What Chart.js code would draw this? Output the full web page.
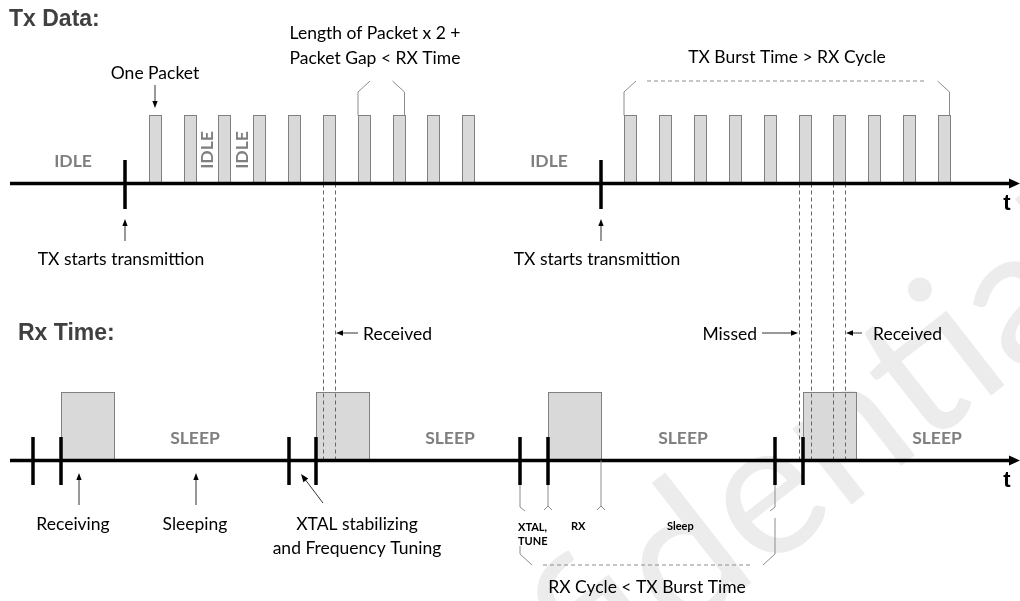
<!DOCTYPE html>
<html>
<head>
<meta charset="utf-8">
<script src="https://cdn.jsdelivr.net/npm/chart.js@4/dist/chart.umd.min.js"></script>
<style>
  html, body { margin: 0; padding: 0; background: #fff; }
  #wrap { width: 1020px; height: 601px; }
</style>
</head>
<body>
<div id="wrap"><canvas id="timing" width="1020" height="601"></canvas></div>
<script>
// time runs along x (0..1020), the two tracks sit on a 0..601 vertical scale, top = 0
const txPacketStarts = [149, 184, 218, 253, 288, 323, 358, 393, 427, 462,
                        624, 659, 694, 729, 764, 799, 833, 868, 903, 938];
const packetLength = 11.5;
const txStartTimes = [125, 601];
const rxWakeTimes = [33, 289, 520, 775];   // XTAL stabilizing + tuning starts
const rxOnTimes = [61, 316, 548, 803];     // receiver on
const rxOnLength = 53;
const probedPackets = [5, 15, 16];         // packets traced down to the RX line
const gapBracePackets = [6, 7];
const burstBracePackets = [10, 19];

const TX_Y = 183.5, RX_Y = 460.5;
const TX_TOP = 115.5, RX_TOP = 392.5;
const TEXT = 'Lato, "Open Sans", sans-serif';
const HEAD = '"Liberation Sans", Arial, sans-serif';

function segments(xs, y0, y1) {
    let pts = [];
    xs.forEach((x) => {
        pts.push({x: x, y: y0}, {x: x, y: y1}, {x: x, y: null});
    });
    return pts;
}

const diagram = {
    id: 'diagram',
    beforeDatasetsDraw(chart) {
        const {ctx, scales: {x, y}} = chart;
        const px = (v) => x.getPixelForValue(v);
        const py = (v) => y.getPixelForValue(v);
        ctx.save();

        // watermark, placed so that the "d" lands in the bottom right
        ctx.save();
        ctx.font = '190px ' + TEXT;
        const lead = ctx.measureText('Confi').width;
        const ang = -38 * Math.PI / 180;
        ctx.translate(px(678) - Math.cos(ang) * lead, py(640) - Math.sin(ang) * lead);
        ctx.rotate(ang);
        ctx.fillStyle = '#ececec';
        ctx.textAlign = 'left';
        ctx.textBaseline = 'alphabetic';
        ctx.fillText('Confidential', 0, 0);
        ctx.restore();

        // packets
        ctx.fillStyle = '#d9d9d9';
        ctx.strokeStyle = '#808080';
        ctx.lineWidth = 1;
        txPacketStarts.forEach((t) => {
            const l = Math.round(px(t)) + 0.5, r = Math.round(px(t + packetLength)) + 0.5;
            ctx.fillRect(l, py(TX_TOP), r - l, py(TX_Y) - py(TX_TOP));
            ctx.strokeRect(l, py(TX_TOP), r - l, py(TX_Y) - py(TX_TOP));
        });
        // RX windows
        rxOnTimes.forEach((t) => {
            const l = Math.round(px(t)) + 0.5, r = Math.round(px(t + rxOnLength)) + 0.5;
            ctx.fillRect(l, py(RX_TOP), r - l, py(RX_Y) - py(RX_TOP));
            ctx.strokeRect(l, py(RX_TOP), r - l, py(RX_Y) - py(RX_TOP));
        });

        // dashed traces from TX packets to RX line
        ctx.strokeStyle = '#666';
        ctx.setLineDash([4, 3]);
        probedPackets.forEach((i) => {
            [txPacketStarts[i], txPacketStarts[i] + packetLength].forEach((t) => {
                const xx = Math.round(px(t)) + 0.5;
                ctx.beginPath();
                ctx.moveTo(xx, py(TX_Y));
                ctx.lineTo(xx, py(RX_Y));
                ctx.stroke();
            });
        });
        ctx.setLineDash([]);
        ctx.restore();
    },
    afterDatasetsDraw(chart) {
        const {ctx, scales: {x, y}} = chart;
        const px = (v) => x.getPixelForValue(v);
        const py = (v) => y.getPixelForValue(v);
        ctx.save();

        const line = (pts, dash, color) => {
            ctx.strokeStyle = color || '#8c8c8c';
            ctx.lineWidth = 1;
            ctx.setLineDash(dash || []);
            ctx.beginPath();
            pts.forEach((p, i) => i ? ctx.lineTo(px(p[0]), py(p[1])) : ctx.moveTo(px(p[0]), py(p[1])));
            ctx.stroke();
            ctx.setLineDash([]);
        };
        const arrow = (x1, y1, x2, y2, size) => {
            const a = Math.atan2(py(y2) - py(y1), px(x2) - px(x1));
            const s = size || 7;
            ctx.strokeStyle = '#333';
            ctx.fillStyle = '#000';
            ctx.lineWidth = 1;
            ctx.beginPath();
            ctx.moveTo(px(x1), py(y1));
            ctx.lineTo(px(x2) - Math.cos(a) * s * 0.6, py(y2) - Math.sin(a) * s * 0.6);
            ctx.stroke();
            ctx.beginPath();
            ctx.moveTo(px(x2), py(y2));
            ctx.lineTo(px(x2) - Math.cos(a) * s + Math.sin(a) * s * 0.38, py(y2) - Math.sin(a) * s - Math.cos(a) * s * 0.38);
            ctx.lineTo(px(x2) - Math.cos(a) * s - Math.sin(a) * s * 0.38, py(y2) - Math.sin(a) * s + Math.cos(a) * s * 0.38);
            ctx.closePath();
            ctx.fill();
        };
        const text = (str, xx, yy, font, color, align) => {
            ctx.font = font;
            ctx.fillStyle = color || '#000';
            ctx.textAlign = align || 'center';
            ctx.textBaseline = 'middle';
            ctx.fillText(str, px(xx), py(yy));
        };

        // axis arrow heads
        [TX_Y, RX_Y].forEach((yy) => {
            ctx.fillStyle = '#000';
            ctx.beginPath();
            ctx.moveTo(px(1020), py(yy));
            ctx.lineTo(px(1009), py(yy) - 5);
            ctx.lineTo(px(1009), py(yy) + 5);
            ctx.closePath();
            ctx.fill();
            text('t', 1007, yy + 20, 'bold 22px ' + HEAD, '#000');
        });

        // brace over two packets
        const g0 = txPacketStarts[gapBracePackets[0]], g1 = txPacketStarts[gapBracePackets[1]] + packetLength;
        line([[g0, TX_TOP], [g0, 92], [g0 + 12, 81]]);
        line([[g1 - 12, 81], [g1, 92], [g1, TX_TOP]]);
        // brace over the burst
        const b0 = txPacketStarts[burstBracePackets[0]], b1 = txPacketStarts[burstBracePackets[1]] + packetLength;
        line([[b0, TX_TOP], [b0, 92], [b0 + 12, 81]]);
        line([[b0 + 23, 81], [b1 - 23, 81]], [4, 3]);
        line([[b1 - 12, 81], [b1, 92], [b1, TX_TOP]]);

        // bottom markers of one RX cycle
        const w0 = rxWakeTimes[2], w1 = rxWakeTimes[3], on = rxOnTimes[2], off = rxOnTimes[2] + rxOnLength;
        line([[w0, 485], [w0, 507], [w0 + 5, 511]]);
        line([[on, 485], [on, 506], [on - 4, 510]]);
        line([[on, 506], [on + 4, 510]]);
        line([[off, RX_Y], [off, 506], [off - 4, 510]]);
        line([[off, 506], [off + 4, 510]]);
        line([[w1, 485], [w1, 507], [w1 - 5, 511]]);
        line([[w0, 546], [w0, 554], [w0 + 12, 565]]);
        line([[w0 + 23, 565], [w1 - 22, 565]], [4, 3]);
        line([[w1, 518], [w1, 554], [w1 - 12, 565]]);

        // headings
        text('Tx Data:', 9, 20, 'bold 23px ' + HEAD, '#404040', 'left');
        text('Rx Time:', 18, 334, 'bold 23px ' + HEAD, '#404040', 'left');

        // TX labels
        const body = '17.5px ' + TEXT;
        const grey = 'bold 17.5px ' + TEXT;
        text('Length of Packet x 2 +', 375, 33, body);
        text('Packet Gap < RX Time', 375, 58, body);
        text('TX Burst Time > RX Cycle', 787, 57, body);
        text('One Packet', 155, 73, body);
        arrow(155, 85, 155, 108, 7);
        text('IDLE', 73, 161, grey, '#7f7f7f');
        text('IDLE', 549, 161, grey, '#7f7f7f');
        [207, 242].forEach((xx) => {
            ctx.save();
            ctx.translate(px(xx), py(150));
            ctx.rotate(-Math.PI / 2);
            ctx.font = grey;
            ctx.fillStyle = '#7f7f7f';
            ctx.textAlign = 'center';
            ctx.textBaseline = 'middle';
            ctx.fillText('IDLE', 0, 0);
            ctx.restore();
        });
        txStartTimes.forEach((t) => {
            arrow(t, 241, t, 219, 7);
            text('TX starts transmittion', t - 4, 259, body);
        });

        // RX labels
        text('Received', 363, 334, body, '#000', 'left');
        arrow(358, 333, 336, 333, 7);
        text('Missed', 757, 334, body, '#000', 'right');
        arrow(762, 333, 798, 333, 7);
        text('Received', 873, 334, body, '#000', 'left');
        arrow(862, 333, 846, 333, 7);
        [195, 450, 683, 937].forEach((xx) => text('SLEEP', xx, 438, grey, '#7f7f7f'));

        text('Receiving', 73, 524, body);
        arrow(79, 505, 79, 473, 7);
        text('Sleeping', 195, 524, body);
        arrow(196, 505, 196, 473, 7);
        text('XTAL stabilizing', 357, 524, body);
        text('and Frequency Tuning', 357, 548, body);
        arrow(323, 503, 301, 474, 8);

        const small = 'bold 11px ' + TEXT;
        text('XTAL,', 518, 527, small, '#000', 'left');
        text('TUNE', 518, 541, small, '#000', 'left');
        text('RX', 571, 526, small, '#000', 'left');
        text('Sleep', 667, 526, small, '#000', 'left');
        text('RX Cycle < TX Burst Time', 647, 587, body);

        ctx.restore();
    }
};

new Chart(document.getElementById('timing'), {
    type: 'scatter',
    data: {
        datasets: [
            {
                label: 'TX line',
                data: [{x: 10, y: TX_Y}, {x: 1012, y: TX_Y}],
                showLine: true, borderColor: '#000', borderWidth: 3.5, pointRadius: 0
            },
            {
                label: 'RX line',
                data: [{x: 10, y: RX_Y}, {x: 1012, y: RX_Y}],
                showLine: true, borderColor: '#000', borderWidth: 3.5, pointRadius: 0
            },
            {
                label: 'TX start',
                data: segments(txStartTimes, 160, 209),
                showLine: true, spanGaps: false, borderColor: '#000', borderWidth: 3.5, pointRadius: 0
            },
            {
                label: 'RX marks',
                data: segments(rxWakeTimes.concat(rxOnTimes), 437, 485),
                showLine: true, spanGaps: false, borderColor: '#000', borderWidth: 3.5, pointRadius: 0
            }
        ]
    },
    options: {
        responsive: false,
        animation: false,
        events: [],
        layout: {padding: 0},
        plugins: {legend: {display: false}, tooltip: {enabled: false}},
        scales: {
            x: {type: 'linear', min: 0, max: 1020, display: false},
            y: {type: 'linear', min: 0, max: 601, reverse: true, display: false}
        }
    },
    plugins: [diagram]
});
</script>
</body>
</html>
